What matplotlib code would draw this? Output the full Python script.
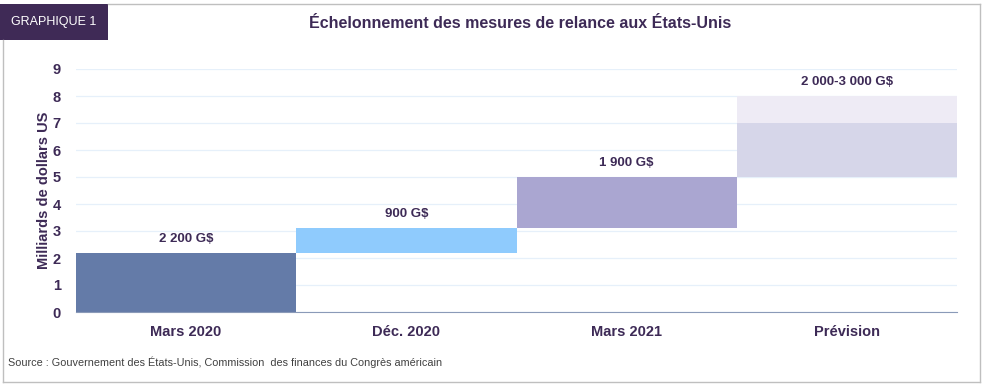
import matplotlib.pyplot as plt
from matplotlib.patches import Rectangle
from matplotlib.lines import Line2D

plt.rcParams['font.family'] = ['Liberation Sans', 'DejaVu Sans']

categories = ["Mars 2020", "Déc. 2020", "Mars 2021", "Prévision"]
bottoms = [0, 2.2, 3.1, 5.0]
heights = [2.2, 0.9, 1.9, 2.0]
colors = ["#647ba8", "#8fcbfd", "#aaa6d1", "#d6d6e9"]
labels = ["2 200 G$", "900 G$", "1 900 G$", "2 000-3 000 G$"]
extra_bottom = 7.0
extra_height = 1.0
extra_color = "#eeebf5"

txt = "#3d2a56"

fig = plt.figure(figsize=(9.84, 3.87), dpi=100)
ax = fig.add_axes([76 / 984, (387 - 312) / 387, (957 - 76) / 984, (312 - 69) / 387])

x = range(len(categories))
ax.bar(x, heights, bottom=bottoms, width=1.0, color=colors, zorder=2)
ax.bar(x[-1], extra_height, bottom=extra_bottom, width=1.0, color=extra_color, zorder=2)

tops = [b + h for b, h in zip(bottoms, heights)]
tops[-1] = extra_bottom + extra_height
for i, (t, lab) in enumerate(zip(tops, labels)):
    ax.text(i, t + 0.3, lab, ha='center', va='bottom', fontsize=9.5,
            fontweight='bold', color=txt)

ax.set_xlim(-0.5, 3.5)
ax.set_ylim(0, 9)
ax.set_yticks(range(10))
ax.set_xticks(list(x))
ax.set_xticklabels(categories)
ax.grid(axis='y', color='#e6f0fa', linewidth=0.9, zorder=0)
ax.set_axisbelow(True)
for s in ['top', 'right', 'left']:
    ax.spines[s].set_visible(False)
ax.spines['bottom'].set_color('#8a9ab8')
ax.spines['bottom'].set_linewidth(0.8)
ax.tick_params(length=0, labelsize=10.5, labelcolor=txt, pad=9.5)
ax.tick_params(axis='y', pad=11)
for lab in ax.get_xticklabels() + ax.get_yticklabels():
    lab.set_fontweight('bold')
ax.set_ylabel("Milliards de dollars US", fontsize=10.5, fontweight='bold',
              color=txt, labelpad=1)

fig.text(520 / 984, 1 - 24 / 387, "Échelonnement des mesures de relance aux États-Unis",
         ha='center', va='center', fontsize=11.5, fontweight='bold', color=txt)
fig.text(8 / 984, 1 - 362 / 387,
         "Source : Gouvernement des États-Unis, Commission  des finances du Congrès américain",
         ha='left', va='center', fontsize=7.8, color='#404040')

# frame and title box
fig.add_artist(Line2D([108 / 984, 980 / 984], [1 - 4 / 387, 1 - 4 / 387],
                      color='#bfbfbf', linewidth=1))
fig.add_artist(Line2D([980 / 984, 980 / 984], [1 - 4 / 387, 1 - 382 / 387],
                      color='#bfbfbf', linewidth=1))
fig.add_artist(Line2D([3 / 984, 980 / 984], [1 - 382 / 387, 1 - 382 / 387],
                      color='#bfbfbf', linewidth=1))
fig.add_artist(Line2D([3 / 984, 3 / 984], [1 - 40 / 387, 1 - 382 / 387],
                      color='#bfbfbf', linewidth=1))
fig.add_artist(Rectangle((0, 1 - 40 / 387), 108 / 984, 36 / 387,
                         facecolor='#3f2a56', edgecolor='none'))
fig.text(54 / 984, 1 - 22 / 387, "GRAPHIQUE 1", ha='center', va='center',
         fontsize=9, color='white')

fig.savefig("out.png", dpi=100)
